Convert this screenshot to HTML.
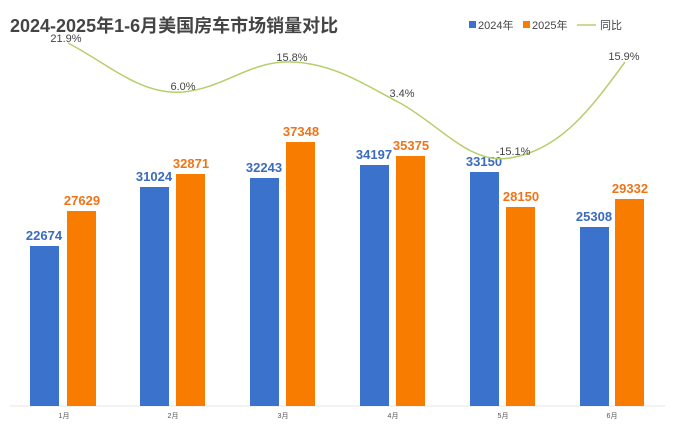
<!DOCTYPE html><html><head><meta charset="utf-8"><style>body{margin:0;background:#fff}svg{display:block}text{font-family:"Liberation Sans","Noto Sans CJK SC",sans-serif}</style></head><body>
<svg width="675" height="424" viewBox="0 0 675 424">
<text x="10" y="32" font-size="18" font-weight="bold" fill="#444">2024-2025年1-6月美国房车市场销量对比</text>
<rect x="469" y="21" width="7" height="7" fill="#3a72cc"/><text x="478" y="29" font-size="11" fill="#444">2024年</text>
<rect x="523" y="21" width="7" height="7" fill="#f77c00"/><text x="532" y="29" font-size="11" fill="#444">2025年</text>
<line x1="577" y1="25" x2="596" y2="25" stroke="#b5cf6b" stroke-width="1.5"/><text x="600" y="29" font-size="11" fill="#444">同比</text>
<line x1="10" y1="406" x2="665" y2="406" stroke="#e6e6e6"/>
<g fill="#3a72cc">
<rect x="30" y="246" width="29" height="160"/><rect x="140" y="187" width="29" height="219"/><rect x="250" y="178" width="29" height="228"/><rect x="360" y="165" width="29" height="241"/><rect x="470" y="172" width="29" height="234"/><rect x="580" y="227" width="29" height="179"/></g>
<g fill="#f77c00">
<rect x="67" y="211" width="29" height="195"/><rect x="176" y="174" width="29" height="232"/><rect x="286" y="142" width="29" height="264"/><rect x="396" y="156" width="29" height="250"/><rect x="506" y="207" width="29" height="199"/><rect x="615" y="199" width="29" height="207"/></g>
<g font-size="13" font-weight="bold" fill="#3a6bc0" text-anchor="middle">
<text x="44" y="240">22674</text><text x="154" y="181">31024</text><text x="264" y="172">32243</text><text x="374" y="159">34197</text><text x="484" y="166">33150</text><text x="594" y="221">25308</text></g>
<g font-size="13" font-weight="bold" fill="#ef7418" text-anchor="middle">
<text x="82" y="205">27629</text><text x="191" y="168">32871</text><text x="301" y="136">37348</text><text x="411" y="150">35375</text><text x="521" y="201">28150</text><text x="630" y="193">29332</text></g>
<path d="M68,43 C110,65 140,95 183,92 C225,88 250,60 293,62 C335,64 365,85 400,103 C440,125 470,165 510,158 C560,150 590,110 625,62" fill="none" stroke="#b5cf6b" stroke-width="1.5"/>
<g font-size="11" fill="#444" text-anchor="middle">
<text x="66" y="42">21.9%</text><text x="183" y="90">6.0%</text><text x="292" y="61">15.8%</text><text x="402" y="97">3.4%</text><text x="513" y="155">-15.1%</text><text x="624" y="60">15.9%</text></g>
<g font-size="7" fill="#555" text-anchor="middle">
<text x="64" y="418">1月</text><text x="173" y="418">2月</text><text x="283" y="418">3月</text><text x="393" y="418">4月</text><text x="503" y="418">5月</text><text x="612" y="418">6月</text></g>
</svg></body></html>
